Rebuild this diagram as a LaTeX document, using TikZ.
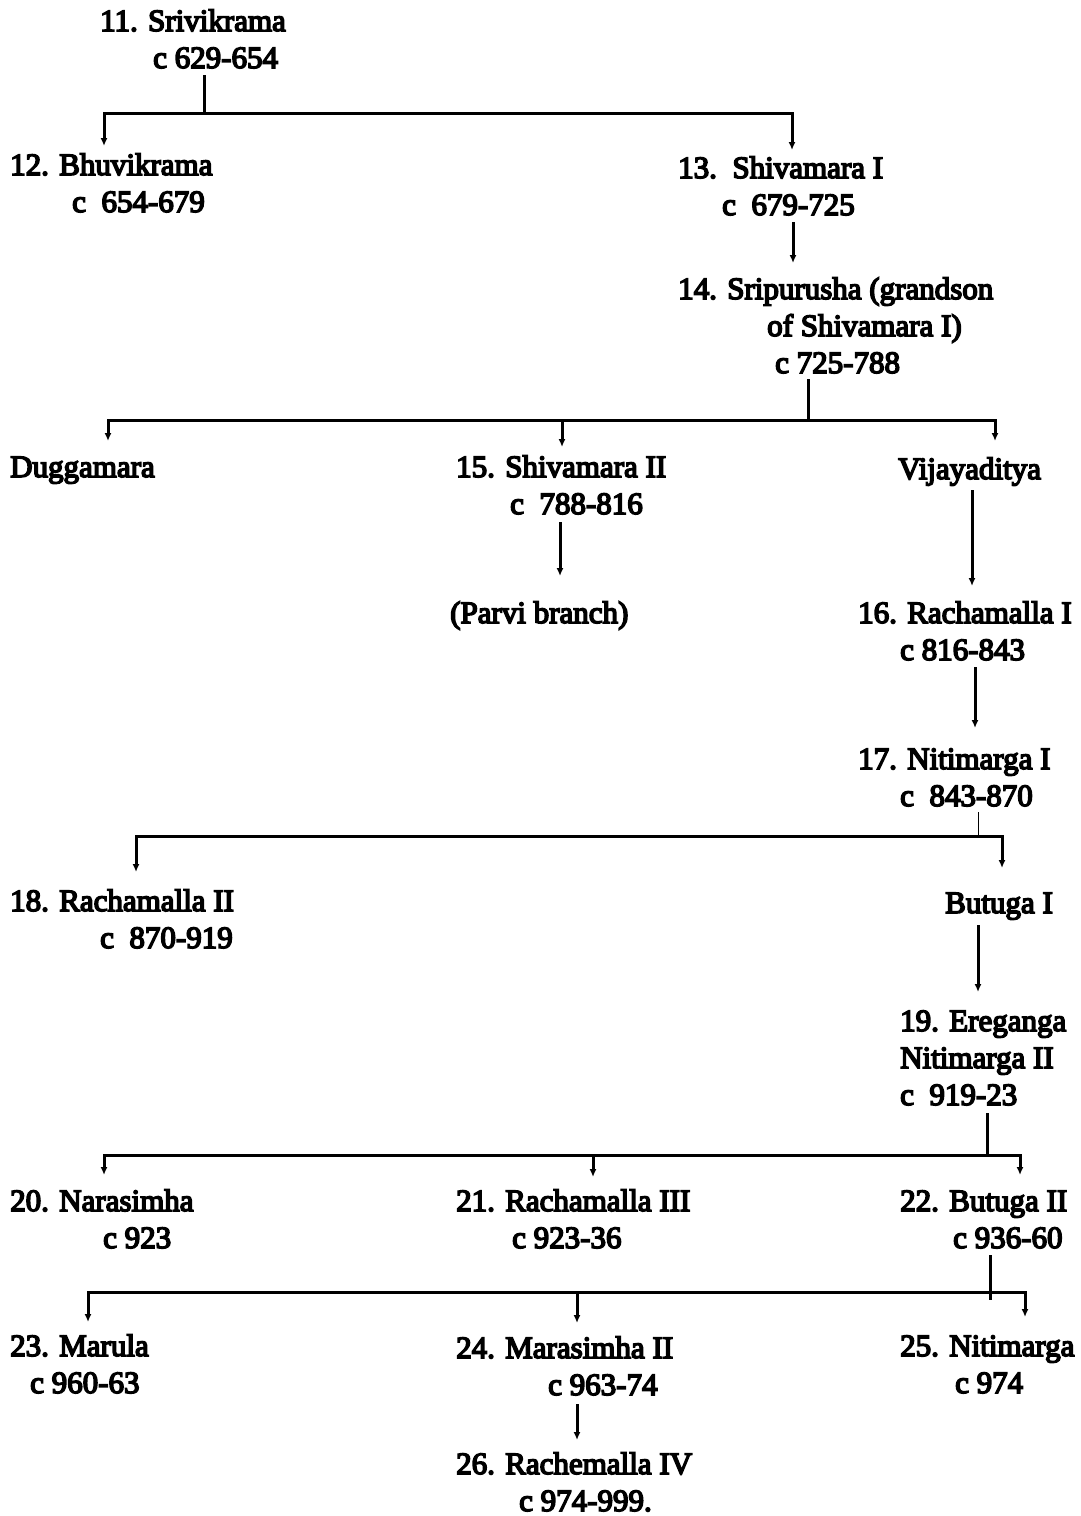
\documentclass[tikz,border=0pt]{standalone}
\usepackage{fontspec}
\setmainfont{Liberation Serif}
\newfontfamily\treefont{Liberation Serif}[FakeBold=5]
\usetikzlibrary{arrows.meta}
\tikzset{
  person/.style={anchor=base west, align=left, inner sep=0pt, font=\treefont\fontsize{31}{37}\selectfont},
  bar/.style={line width=3pt, line cap=rect},
  thin/.style={line width=1pt},
  arr/.style={line width=3pt, -{Latex[length=8pt,width=7pt]}}
}
\begin{document}
\begin{tikzpicture}[x=1pt,y=-1pt]
\useasboundingbox[fill=white] (0,0) rectangle (1080,1516);
% people (anchor = baseline of last line)
\node[person] (n11) at (100,68) {11. Srivikrama\\\hspace*{53pt}c 629-654};
\node[person] (n12) at (10,212) {12. Bhuvikrama\\\hspace*{62pt}c~~654-679};
\node[person] (n13) at (678,215) {13.~~Shivamara I\\\hspace*{44pt}c~~679-725};
\node[person] (n14) at (678,373) {14. Sripurusha (grandson\\\hspace*{89pt}of Shivamara I)\\\hspace*{97pt}c 725-788};
\node[person] (dug) at (10,477) {Duggamara};
\node[person] (n15) at (456,514) {15. Shivamara II\\\hspace*{54pt}c~~788-816};
\node[person] (parvi) at (450,623) {(Parvi branch)};
\node[person] (vij) at (898,479) {Vijayaditya};
\node[person] (n16) at (858,660) {16. Rachamalla I\\\hspace*{42pt}c 816-843};
\node[person] (n17) at (858,806) {17. Nitimarga I\\\hspace*{42pt}c~~843-870};
\node[person] (n18) at (10,948) {18. Rachamalla II\\\hspace*{90pt}c~~870-919};
\node[person] (but1) at (945,913) {Butuga I};
\node[person] (n19) at (900,1105) {19. Ereganga\\Nitimarga II\\c~~919-23};
\node[person] (n20) at (10,1248) {20. Narasimha\\\hspace*{93pt}c 923};
\node[person] (n21) at (456,1248) {21. Rachamalla III\\\hspace*{56pt}c 923-36};
\node[person] (n22) at (900,1248) {22. Butuga II\\\hspace*{53pt}c 936-60};
\node[person] (n23) at (10,1393) {23. Marula\\\hspace*{20pt}c 960-63};
\node[person] (n24) at (456,1395) {24. Marasimha II\\\hspace*{92pt}c 963-74};
\node[person] (n25) at (900,1393) {25. Nitimarga\\\hspace*{55pt}c 974};
\node[person] (n26) at (456,1511) {26. Rachemalla IV\\\hspace*{63pt}c 974-999.};
% junction coordinates
\coordinate (s11) at (204,76);  \coordinate (j11) at (204,113);
\coordinate (b11L) at (104,113); \coordinate (b11R) at (792,113);
\coordinate (t12) at (104,146);  \coordinate (t13) at (792,150);
\coordinate (s13) at (793,222);  \coordinate (t14) at (793,263);
\coordinate (s14) at (808,380);  \coordinate (j14) at (808,420);
\coordinate (b14L) at (108,420); \coordinate (b14M) at (562,420); \coordinate (b14R) at (995,420);
\coordinate (tdug) at (108,441); \coordinate (t15) at (562,447); \coordinate (tvij) at (995,441);
\coordinate (s15) at (560,522);  \coordinate (tparvi) at (560,576);
\coordinate (svij) at (972,490); \coordinate (t16) at (972,586);
\coordinate (s16) at (975,667);  \coordinate (t17) at (975,728);
\coordinate (s17) at (978,812);  \coordinate (j17) at (978,836);
\coordinate (b17L) at (136,836); \coordinate (b17R) at (1002,836);
\coordinate (t18) at (136,872);  \coordinate (tbut1) at (1002,868);
\coordinate (sbut1) at (978,925); \coordinate (t19) at (978,992);
\coordinate (s19) at (987,1114); \coordinate (j19) at (987,1155);
\coordinate (b19L) at (104,1155); \coordinate (b19M) at (593,1155); \coordinate (b19R) at (1020,1155);
\coordinate (t20) at (104,1175); \coordinate (t21) at (593,1177); \coordinate (t22) at (1020,1175);
\coordinate (s22) at (990,1256); \coordinate (j22) at (990,1298);
\coordinate (b22L) at (88,1292); \coordinate (b22M) at (577,1292); \coordinate (b22R) at (1025,1292);
\coordinate (t23) at (88,1322);  \coordinate (t24) at (577,1323); \coordinate (t25) at (1025,1317);
\coordinate (s24) at (577,1404); \coordinate (t26) at (577,1440);
% connectors
\draw[bar] (s11) -- (j11);
\draw[bar] (b11L) -- (b11R);
\draw[arr] (b11L) -- (t12);
\draw[arr] (b11R) -- (t13);
\draw[arr] (s13) -- (t14);
\draw[bar] (s14) -- (j14);
\draw[bar] (b14L) -- (b14R);
\draw[arr] (b14L) -- (tdug);
\draw[arr] (b14M) -- (t15);
\draw[arr] (b14R) -- (tvij);
\draw[arr] (s15) -- (tparvi);
\draw[arr] (svij) -- (t16);
\draw[arr] (s16) -- (t17);
\draw[thin] (s17) -- (j17);
\draw[bar] (b17L) -- (b17R);
\draw[arr] (b17L) -- (t18);
\draw[arr] (b17R) -- (tbut1);
\draw[arr] (sbut1) -- (t19);
\draw[bar] (s19) -- (j19);
\draw[bar] (b19L) -- (b19R);
\draw[arr] (b19L) -- (t20);
\draw[arr] (b19M) -- (t21);
\draw[arr] (b19R) -- (t22);
\draw[bar] (s22) -- (j22);
\draw[bar] (b22L) -- (b22R);
\draw[arr] (b22L) -- (t23);
\draw[arr] (b22M) -- (t24);
\draw[arr] (b22R) -- (t25);
\draw[arr] (s24) -- (t26);
\end{tikzpicture}
\end{document}
